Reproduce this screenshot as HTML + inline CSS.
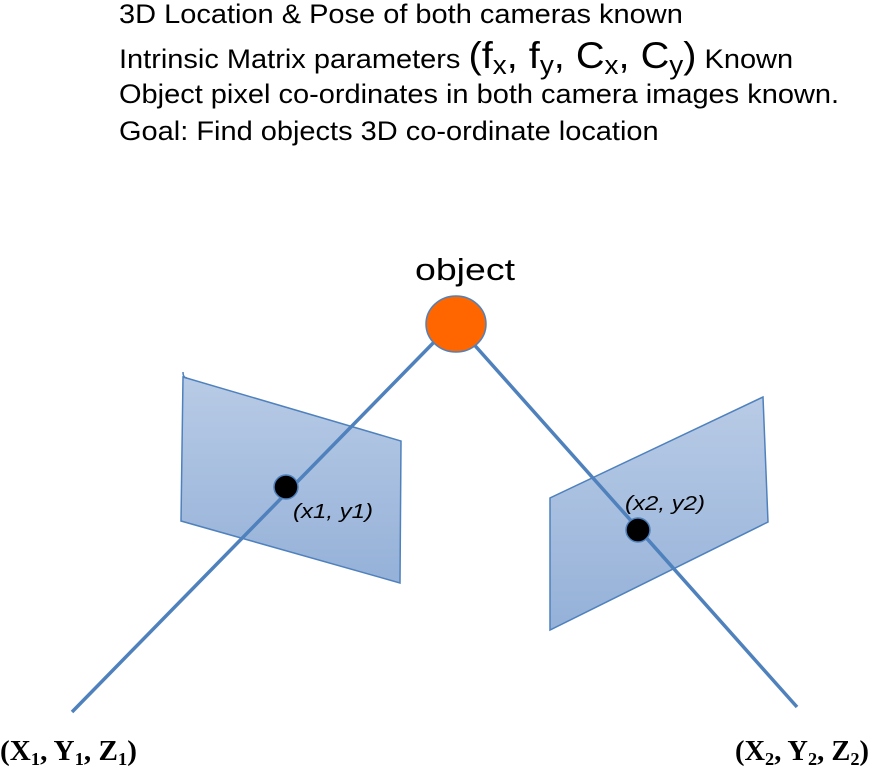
<!DOCTYPE html>
<html><head><style>
body{margin:0;background:#fff;width:872px;height:769px;overflow:hidden;position:relative;}
</style></head><body>
<svg width="872" height="769" style="position:absolute;left:0;top:0" font-family="Liberation Sans, Arial, sans-serif">
<defs>
<linearGradient id="g1" x1="0" y1="0" x2="0" y2="1"><stop offset="0" stop-color="#b8cbe6"/><stop offset="1" stop-color="#95b1d8"/></linearGradient>
</defs>
<g transform="translate(119,0) scale(1.074,1)" font-size="27" fill="#000">
<text x="0" y="23">3D Location &amp; Pose of both cameras known</text>
<text x="0" y="68">Intrinsic Matrix parameters <tspan font-size="37">(f</tspan><tspan font-size="26" dy="6">x</tspan><tspan font-size="37" dy="-6">, f</tspan><tspan font-size="26" dy="6">y</tspan><tspan font-size="37" dy="-6">, C</tspan><tspan font-size="26" dy="6">x</tspan><tspan font-size="37" dy="-6">, C</tspan><tspan font-size="26" dy="6">y</tspan><tspan font-size="37" dy="-6">)</tspan> Known</text>
<text x="0" y="103">Object pixel co-ordinates in both camera images known.</text>
<text x="0" y="140">Goal: Find objects 3D co-ordinate location</text>
</g>
<polygon points="183,377 401,441 400,583 181,521" fill="url(#g1)" stroke="#4f81bd" stroke-width="1.5"/>
<path d="M183,372 Q183,378 187,378" fill="none" stroke="#4f81bd" stroke-width="1.5"/>
<polygon points="763,397 768,522 550,630 550,498" fill="url(#g1)" stroke="#4f81bd" stroke-width="1.5"/>
<line x1="72" y1="712" x2="440" y2="336" stroke="#4f81bd" stroke-width="3.5"/>
<line x1="797" y1="707" x2="470" y2="340" stroke="#4f81bd" stroke-width="3.5"/>
<ellipse cx="456" cy="324" rx="30" ry="28" fill="#ff6600" stroke="#4f81bd" stroke-width="1.5"/>
<circle cx="286" cy="487" r="12" fill="#000" stroke="#4f81bd" stroke-width="1.5"/>
<circle cx="638" cy="530" r="12" fill="#000" stroke="#4f81bd" stroke-width="1.5"/>
<text x="293" y="518" font-style="italic" font-size="20" textLength="80" lengthAdjust="spacingAndGlyphs">(x1, y1)</text>
<text x="625" y="510" font-style="italic" font-size="20" textLength="80" lengthAdjust="spacingAndGlyphs">(x2, y2)</text>
<text x="415" y="280" font-size="31" textLength="100" lengthAdjust="spacingAndGlyphs">object</text>
<text x="0" y="760" font-family="Liberation Serif, serif" font-weight="bold" font-size="28" textLength="137" lengthAdjust="spacingAndGlyphs">(X<tspan font-size="18" dy="5">1</tspan><tspan dy="-5">, Y</tspan><tspan font-size="18" dy="5">1</tspan><tspan dy="-5">, Z</tspan><tspan font-size="18" dy="5">1</tspan><tspan dy="-5">)</tspan></text>
<text x="735" y="760" font-family="Liberation Serif, serif" font-weight="bold" font-size="28" textLength="134" lengthAdjust="spacingAndGlyphs">(X<tspan font-size="18" dy="5">2</tspan><tspan dy="-5">, Y</tspan><tspan font-size="18" dy="5">2</tspan><tspan dy="-5">, Z</tspan><tspan font-size="18" dy="5">2</tspan><tspan dy="-5">)</tspan></text>
</svg>
</body></html>
